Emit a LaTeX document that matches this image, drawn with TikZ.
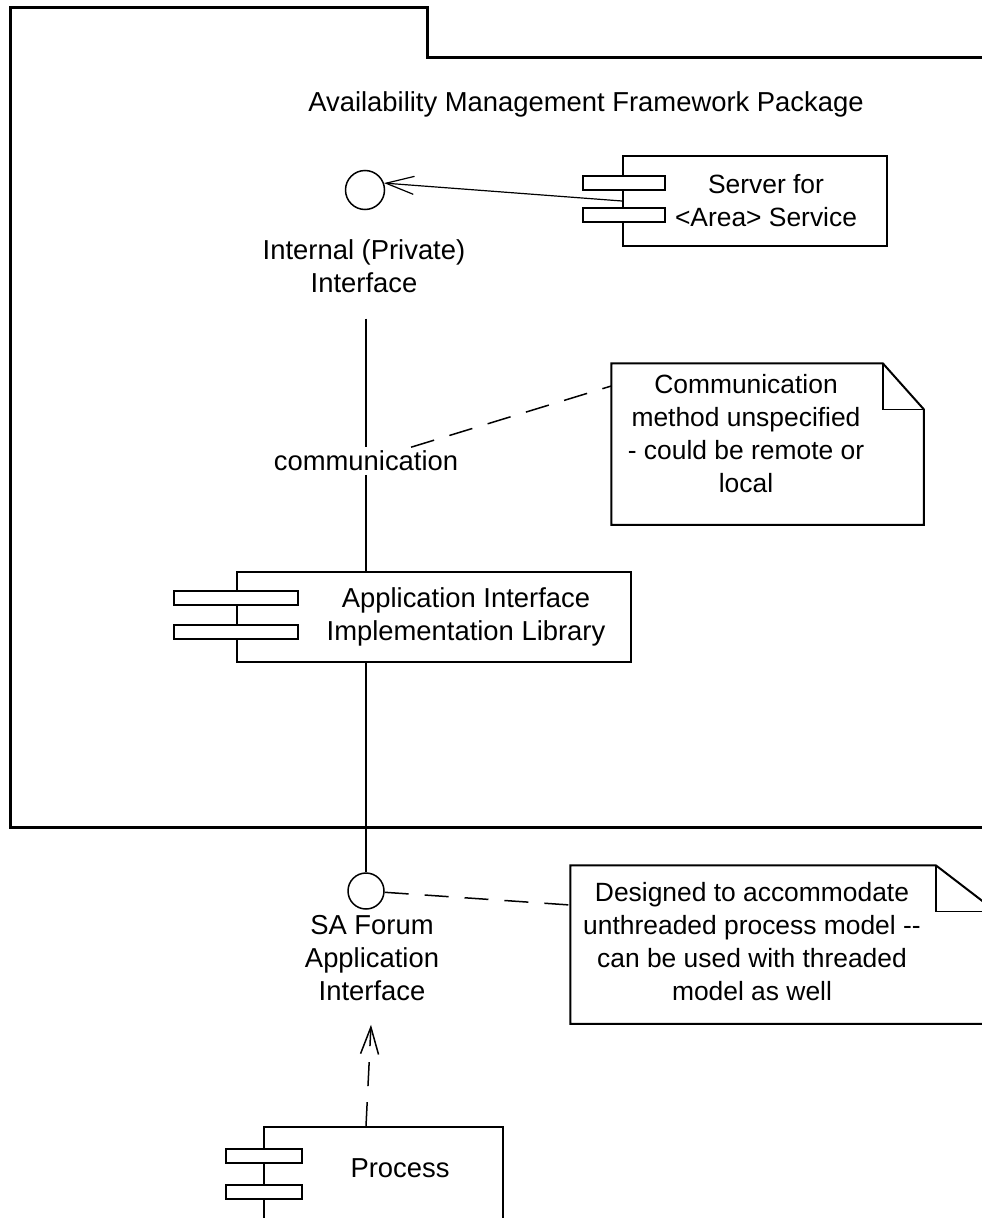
\documentclass[tikz,border=0pt]{standalone}
\usepackage{fontspec}
\setmainfont{Liberation Sans}
\usetikzlibrary{arrows.meta,calc}
\tikzset{
  every node/.style={font=\fontsize{27.4pt}{33pt}\selectfont, align=center},
  notetxt/.style={font=\fontsize{26.4pt}{33pt}\selectfont},
  pkg/.style={line width=3pt},
  comp/.style={draw, line width=2pt, minimum height=90pt, inner sep=0pt},
  bar/.style={draw, fill=white, line width=2pt},
  iface/.style={draw, circle, line width=1.5pt, minimum size=#1, inner sep=0pt},
  notebox/.style={line width=2pt, line join=miter},
  notelink/.style={line width=1.5pt, dash pattern=on 24pt off 16pt},
  openhead/.style={-{Straight Barb[length=#1,width=18pt]}}
}
\begin{document}
\begin{tikzpicture}[x=1pt,y=-1pt,line width=1.5pt]
    \clip (0,0) rectangle (982,1218);
    %% package
    \draw[pkg] (1000,57) -- (427,57) -- (427,7) -- (10,7) -- (10,827) -- (1000,827);
    \node[anchor=base] (pkgname) at (586,111) {Availability Management Framework Package};
    %% interfaces
    \node[iface=39pt] (ifint) at (365,190) {};
    \node (ifinttxt) at (364,266) {Internal (Private)\\Interface};
    \node[iface=36pt] (safif) at (366,891) {};
    \node (saftxt) at (372,958) {SA Forum\\Application\\Interface};
    %% components
    \node[comp, minimum width=264pt] (server) at (755,201) {};
    \node[notetxt] (servertxt) at (766,201) {Server for\\<Area> Service};
    \node[comp, minimum width=394pt] (app) at (434,617) {};
    \node (apptxt) at (466,617) {Application Interface\\Implementation Library};
    \node[comp, minimum width=239pt, minimum height=110pt] (proc) at (383.5,1182) {};
    \node (proctxt) at (400,1168) {Process};
    \foreach \n/\dx/\w/\a/\b in {server/39/82/21/53, app/62/124/20/54, proc/37/76/23/59}
        \foreach \y in {\a,\b}
            \draw[bar] ($(\n.north west)+(-\dx,\y)$) rectangle ++(\w,14);
    %% notes
    \node[minimum width=311pt, minimum height=160pt] (note1) at (767.5,444) {};
    \node[notetxt] (note1txt) at (746,434) {Communication\\method unspecified\\- could be remote or\\local};
    \node[minimum width=424pt, minimum height=157pt] (note2) at (783,944.5) {};
    \node[notetxt] (note2txt) at (752,942) {Designed to accommodate\\unthreaded process model -{}-\\can be used with threaded\\model as well};
    \foreach \n/\f in {note1/41, note2/60} {
        \draw[notebox] ($(\n.north east)+(-\f,0)$) -- (\n.north west) -- (\n.south west)
            -- (\n.south east) -- ($(\n.north east)+(0,46)$) -- cycle;
        \draw[notebox,line width=1.5pt] ($(\n.north east)+(-\f,0)$) |- ($(\n.north east)+(0,46)$);
    }
    %% connectors
    \node[fill=white, inner sep=3pt] (comm) at (366,461) {communication};
    \draw[openhead=28pt, line width=1.2pt] (server.west) -- (ifint.20);
    \draw ($(ifinttxt.south -| comm)+(0,22)$) -- (comm);
    \draw (comm) -- (comm |- app.north);
    \draw[notelink] (comm) -- ($(note1.west)+(0,-58)$);
    \draw (app.south -| safif) -- (safif);
    \draw[notelink] (safif) -- ($(note2.west)+(0,-39.5)$);
    \draw[notelink, openhead=27pt, shorten >=20pt] (proc.north -| safif) -- (saftxt.south);
\end{tikzpicture}
\end{document}
